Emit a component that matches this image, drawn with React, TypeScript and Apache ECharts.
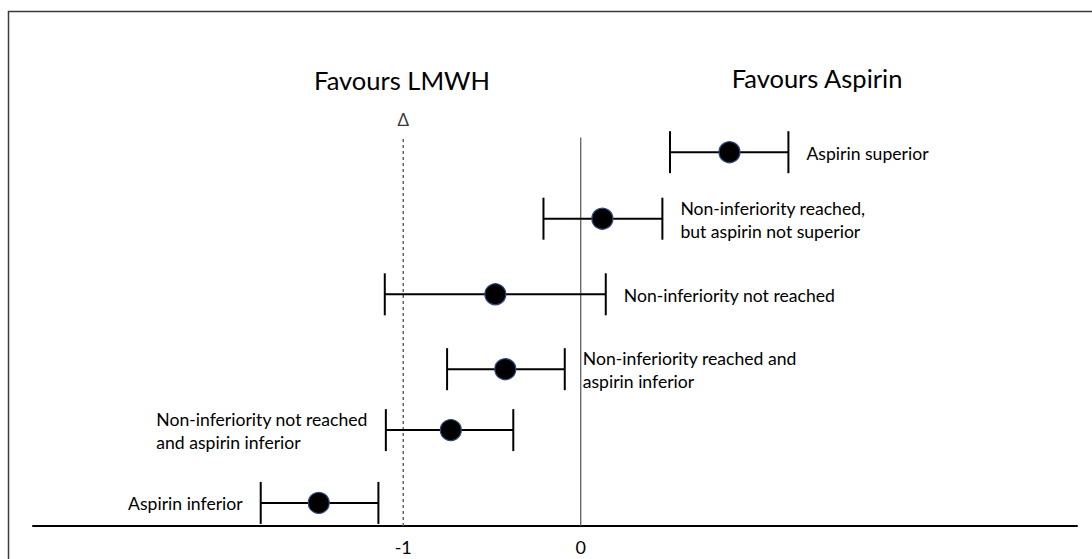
import React, { useEffect, useRef } from "react";
import * as echarts from "echarts";

const outcomeLabels = [
  "Aspirin superior",
  "Non-inferiority reached,\nbut aspirin not superior",
  "Non-inferiority not reached",
  "Non-inferiority reached and\naspirin inferior",
  "Non-inferiority not reached\nand aspirin inferior",
  "Aspirin inferior",
];
const estimates = [0.838, 0.122, -0.481, -0.425, -0.732, -1.476];
const lowerCI = [0.503, -0.21, -1.104, -0.753, -1.098, -1.803];
const upperCI = [1.17, 0.46, 0.141, -0.09, -0.38, -1.14];
const rowPositions = [5.34, 4.39, 3.31, 2.24, 1.37, 0.33];
const labelSides = ["right", "right", "right", "right", "left", "left"];
const xTickValues = [-1, 0];
const nonInferiorityMargin = -1;
const noEffect = 0;
const refLineTop = 5.55;
const headerLeft = "Favours LMWH";
const headerRight = "Favours Aspirin";
const marginSymbol = "Δ";

const FONT = "Lato, 'Noto Sans', sans-serif";
const LABEL_SIZE = 17.6;

function measureBlock(text: string, size: number): number {
  const c = document.createElement("canvas");
  const ctx = c.getContext("2d");
  if (!ctx) return 0;
  ctx.font = `${size}px ${FONT}`;
  return Math.max(...text.split("\n").map((t) => ctx.measureText(t).width));
}

export default function App() {
  const ref = useRef<HTMLDivElement>(null);
  useEffect(() => {
    if (!ref.current) return;
    const chart = echarts.init(ref.current, undefined, { renderer: "svg" });
    const widths = outcomeLabels.map((t) => measureBlock(t, LABEL_SIZE));
    const ciData = outcomeLabels.map((_, i) => [lowerCI[i], upperCI[i], rowPositions[i], i]);
    const dotData = outcomeLabels.map((_, i) => [estimates[i], rowPositions[i]]);
    chart.setOption({
      animation: false,
      grid: { left: 33, right: 15, top: 36, bottom: 33 },
      xAxis: {
        type: "value",
        min: -3.086,
        max: 2.796,
        axisLine: { show: true, onZero: false, lineStyle: { color: "#000", width: 2 } },
        axisTick: { show: false },
        splitLine: { show: false },
        axisLabel: {
          customValues: xTickValues,
          color: "#000",
          fontSize: 18,
          fontFamily: FONT,
          margin: 12,
        },
      },
      yAxis: { type: "value", min: 0, max: 7, show: false },
      graphic: [
        {
          type: "rect",
          shape: { x: 8.5, y: 11.5, width: 1200, height: 700 },
          style: { fill: "none", stroke: "#3a3a3a", lineWidth: 1.5 },
          silent: true,
        },
        {
          type: "text",
          x: 402,
          y: 80,
          style: { text: headerLeft, align: "center", verticalAlign: "middle", fontSize: 25.5, fontFamily: FONT, fill: "#000" },
        },
        {
          type: "text",
          x: 817,
          y: 78,
          style: { text: headerRight, align: "center", verticalAlign: "middle", fontSize: 25.5, fontFamily: FONT, fill: "#000" },
        },
      ],
      series: [
        {
          type: "line",
          data: [[nonInferiorityMargin, 0], [nonInferiorityMargin, refLineTop]],
          symbol: "none",
          lineStyle: { color: "#666", width: 1.5, type: [3, 3] },
          z: 1,
        },
        {
          type: "line",
          data: [[noEffect, 0], [noEffect, refLineTop]],
          symbol: "none",
          lineStyle: { color: "#555", width: 1.2 },
          z: 1,
        },
        {
          type: "scatter",
          data: [[nonInferiorityMargin, refLineTop]],
          symbolSize: 0,
          label: {
            show: true,
            position: "top",
            distance: 10,
            formatter: marginSymbol,
            color: "#000",
            fontSize: 17,
            fontFamily: FONT,
          },
          z: 2,
        },
        {
          type: "custom",
          data: ciData,
          encode: { x: [0, 1], y: 2 },
          z: 3,
          renderItem: (params: any, api: any) => {
            const lo = api.coord([api.value(0), api.value(2)]);
            const hi = api.coord([api.value(1), api.value(2)]);
            const i = api.value(3);
            const cap = 21;
            const side = labelSides[i];
            const gap = 18;
            const stroke = { stroke: "#000", lineWidth: 2 };
            return {
              type: "group",
              children: [
                { type: "line", shape: { x1: lo[0], y1: lo[1], x2: hi[0], y2: hi[1] }, style: stroke },
                { type: "line", shape: { x1: lo[0], y1: lo[1] - cap, x2: lo[0], y2: lo[1] + cap }, style: stroke },
                { type: "line", shape: { x1: hi[0], y1: hi[1] - cap, x2: hi[0], y2: hi[1] + cap }, style: stroke },
                {
                  type: "text",
                  style: {
                    text: outcomeLabels[i],
                    x: side === "right" ? hi[0] + gap : lo[0] - gap - widths[i],
                    y: lo[1] + 1,
                    align: "left",
                    verticalAlign: "middle",
                    fontSize: LABEL_SIZE,
                    lineHeight: 23,
                    fontFamily: FONT,
                    fill: "#000",
                  },
                },
              ],
            };
          },
        },
        {
          type: "scatter",
          data: dotData,
          symbol: "circle",
          symbolSize: 21,
          itemStyle: { color: "#000", opacity: 1, borderColor: "#2e4a7d", borderWidth: 1.2 },
          z: 4,
        },
      ],
    });
    return () => chart.dispose();
  }, []);
  return (
    <div
      ref={ref}
      style={{ position: "fixed", left: 0, top: 0, width: 1092, height: 559, background: "#fff" }}
    />
  );
}
